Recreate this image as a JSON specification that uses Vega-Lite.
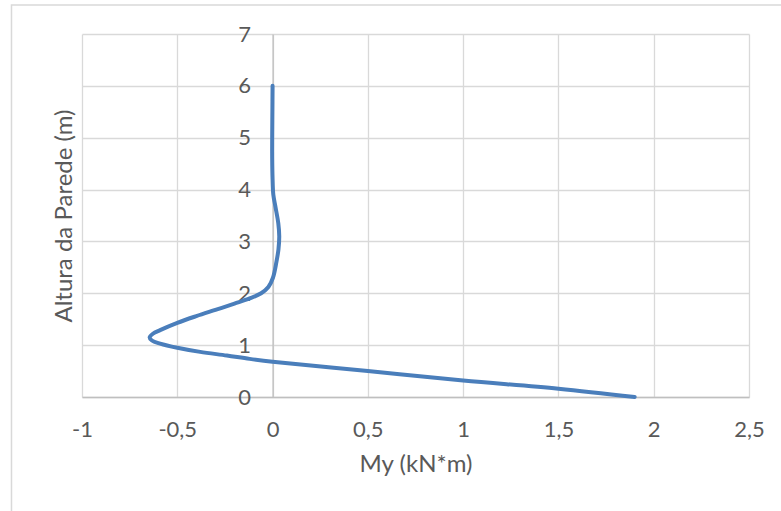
{
  "$schema": "https://vega.github.io/schema/vega-lite/v6.json",
  "width": 667,
  "height": 363,
  "autosize": "none",
  "padding": {"left": 82, "top": 34, "right": 32, "bottom": 114},
  "background": "white",
  "config": {
    "view": {"stroke": null},
    "font": "Lato",
    "axis": {
      "labelFont": "Lato",
      "titleFont": "Lato",
      "labelColor": "#595959",
      "titleColor": "#595959",
      "labelFontSize": 22,
      "titleFontSize": 24,
      "titleFontWeight": "normal",
      "gridColor": "#d9d9d9",
      "gridWidth": 1.3,
      "domainColor": "#bfbfbf",
      "domainWidth": 1.3,
      "ticks": false
    }
  },
  "layer": [
    {
      "data": {"values": [{"x1": -1.37, "x2": 3.5, "y1": 7.56, "y2": -5}]},
      "mark": {"type": "rect", "fill": null, "stroke": "#d9d9d9", "strokeWidth": 1.5, "clip": false},
      "encoding": {
        "x": {"field": "x1", "type": "quantitative", "scale": {"domain": [-1, 2.5], "nice": false, "zero": false}},
        "x2": {"field": "x2"},
        "y": {"field": "y1", "type": "quantitative", "scale": {"domain": [0, 7], "nice": false}},
        "y2": {"field": "y2"}
      }
    },
    {
      "data": {
        "values": [
          {"i": 1, "My": 1.9, "h": 0.0},
          {"i": 2, "My": 1.5, "h": 0.16},
          {"i": 3, "My": 1.0, "h": 0.32},
          {"i": 4, "My": 0.5, "h": 0.5},
          {"i": 5, "My": 0.0, "h": 0.68},
          {"i": 6, "My": -0.12, "h": 0.735},
          {"i": 7, "My": -0.24, "h": 0.8},
          {"i": 8, "My": -0.38, "h": 0.87},
          {"i": 9, "My": -0.5, "h": 0.95},
          {"i": 10, "My": -0.59, "h": 1.03},
          {"i": 11, "My": -0.633, "h": 1.09},
          {"i": 12, "My": -0.645, "h": 1.15},
          {"i": 13, "My": -0.628, "h": 1.22},
          {"i": 14, "My": -0.59, "h": 1.29},
          {"i": 15, "My": -0.5, "h": 1.43},
          {"i": 16, "My": -0.4, "h": 1.56},
          {"i": 17, "My": -0.3, "h": 1.68},
          {"i": 18, "My": -0.2, "h": 1.8},
          {"i": 19, "My": -0.12, "h": 1.9},
          {"i": 20, "My": -0.06, "h": 2.0},
          {"i": 21, "My": -0.022, "h": 2.12},
          {"i": 22, "My": 0.002, "h": 2.3},
          {"i": 23, "My": 0.02, "h": 2.6},
          {"i": 24, "My": 0.031, "h": 2.85},
          {"i": 25, "My": 0.035, "h": 3.1},
          {"i": 26, "My": 0.03, "h": 3.35},
          {"i": 27, "My": 0.016, "h": 3.65},
          {"i": 28, "My": 0.004, "h": 3.9},
          {"i": 29, "My": 0.0, "h": 4.2},
          {"i": 30, "My": -0.002, "h": 4.6},
          {"i": 31, "My": -0.002, "h": 5.0},
          {"i": 32, "My": -0.001, "h": 5.5},
          {"i": 33, "My": 0.0, "h": 6.0}
        ]
      },
      "mark": {"type": "line", "interpolate": "catmull-rom", "color": "#4a7ebb", "strokeWidth": 4, "strokeCap": "round"},
      "encoding": {
        "x": {
          "field": "My",
          "type": "quantitative",
          "scale": {"domain": [-1, 2.5], "nice": false, "zero": false},
          "axis": {
            "title": "My (kN*m)",
            "values": [-1, -0.5, 0, 0.5, 1, 1.5, 2, 2.5],
            "labelExpr": "replace(datum.value + '', '.', ',')",
            "labelPadding": 22,
            "titlePadding": 12,
            "labelFlush": false,
            "grid": true
          }
        },
        "y": {
          "field": "h",
          "type": "quantitative",
          "scale": {"domain": [0, 7], "nice": false},
          "axis": {
            "title": "Altura da Parede (m)",
            "values": [0, 1, 2, 3, 4, 5, 6, 7],
            "labelExpr": "datum.value + ''",
            "offset": -190.57,
            "labelPadding": 22,
            "labelFlush": false,
            "grid": true,
            "titleX": -208,
            "titleY": 181.5,
            "titleAngle": -90,
            "titleAlign": "center",
            "titleBaseline": "middle"
          }
        },
        "order": {"field": "i", "type": "quantitative"}
      }
    }
  ]
}
